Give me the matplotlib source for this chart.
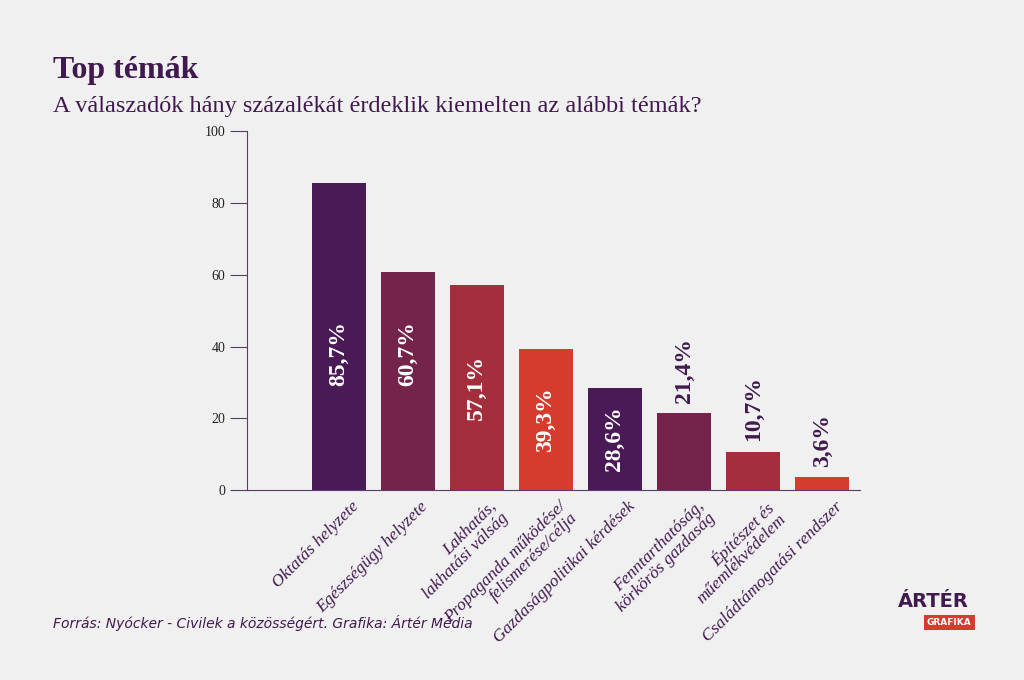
import matplotlib
matplotlib.use("Agg")
import matplotlib.pyplot as plt
from matplotlib.transforms import ScaledTranslation

categories = ["Oktatás helyzete", "Egészségügy helyzete", "Lakhatás,\nlakhatási válság",
              "Propaganda működése/\nfelismerése/célja", "Gazdaságpolitikai kérdések",
              "Fenntarthatóság,\nkörkörös gazdaság", "Építészet és\nműemlékvédelem",
              "Családtámogatási rendszer"]
values = [85.7, 60.7, 57.1, 39.3, 28.6, 21.4, 10.7, 3.6]
colors = ["#4a1a56", "#74234a", "#a52e3c", "#d63c2e"] * 2

bg = "#f1f0f0"
purple = "#40194f"
serif = ["Liberation Serif", "DejaVu Serif"]

fig = plt.figure(figsize=(10.24, 6.8), dpi=100, facecolor=bg)
ax = fig.add_axes([0.241, 0.279, 0.599, 0.528], facecolor=bg)
x = list(range(len(values)))
ax.bar(x, values, width=0.78, color=colors)
ax.set_xlim(-1.33, 7.55)
ax.set_ylim(0, 100)
ax.set_yticks([0, 20, 40, 60, 80, 100])
for s in ["top", "right"]:
    ax.spines[s].set_visible(False)
for s in ["left", "bottom"]:
    ax.spines[s].set_color("#5a3a6a")
ax.tick_params(axis="y", colors="#5a3a6a", labelcolor="#222222", labelsize=10, length=12)
for lbl in ax.get_yticklabels():
    lbl.set_family(serif)
ax.set_xticks(x)
ax.set_xticklabels(categories, rotation=45, ha="right", rotation_mode="anchor",
                   fontsize=12.5, family=serif, style="italic", color=purple, linespacing=1.0)
ax.tick_params(axis="x", length=0, pad=6)
shift = ScaledTranslation(0.12, 0, fig.dpi_scale_trans)
for lbl in ax.get_xticklabels():
    lbl.set_transform(lbl.get_transform() + shift)

for i, v in enumerate(values):
    txt = f"{v:.1f}%".replace(".", ",")
    if v > 25:
        ax.text(i, v / 2 if v < 60 else 38, txt, rotation=90, ha="center", va="center",
                color="white", fontsize=17, fontweight="bold", family=serif)
    else:
        ax.text(i, v + 3, txt, rotation=90, ha="center", va="bottom",
                color=purple, fontsize=17, fontweight="bold", family=serif)

fig.text(0.052, 0.885, "Top témák", fontsize=23, fontweight="bold", family=serif, color=purple)
fig.text(0.052, 0.835, "A válaszadók hány százalékát érdeklik kiemelten az alábbi témák?",
         fontsize=17.5, family=serif, color=purple)
fig.text(0.052, 0.076, "Forrás: Nyócker - Civilek a közösségért. Grafika: Ártér Média",
         fontsize=10, style="italic", color=purple)
fig.text(0.911, 0.108, "ÁRTÉR", fontsize=14, fontweight="bold", color=purple, ha="center")
fig.text(0.927, 0.085, "GRAFIKA", fontsize=6.5, fontweight="bold", color="white", ha="center",
         va="center", bbox=dict(boxstyle="square,pad=0.35", fc="#d63c2e", ec="none"))

fig.savefig("out.png", dpi=100, facecolor=bg)
